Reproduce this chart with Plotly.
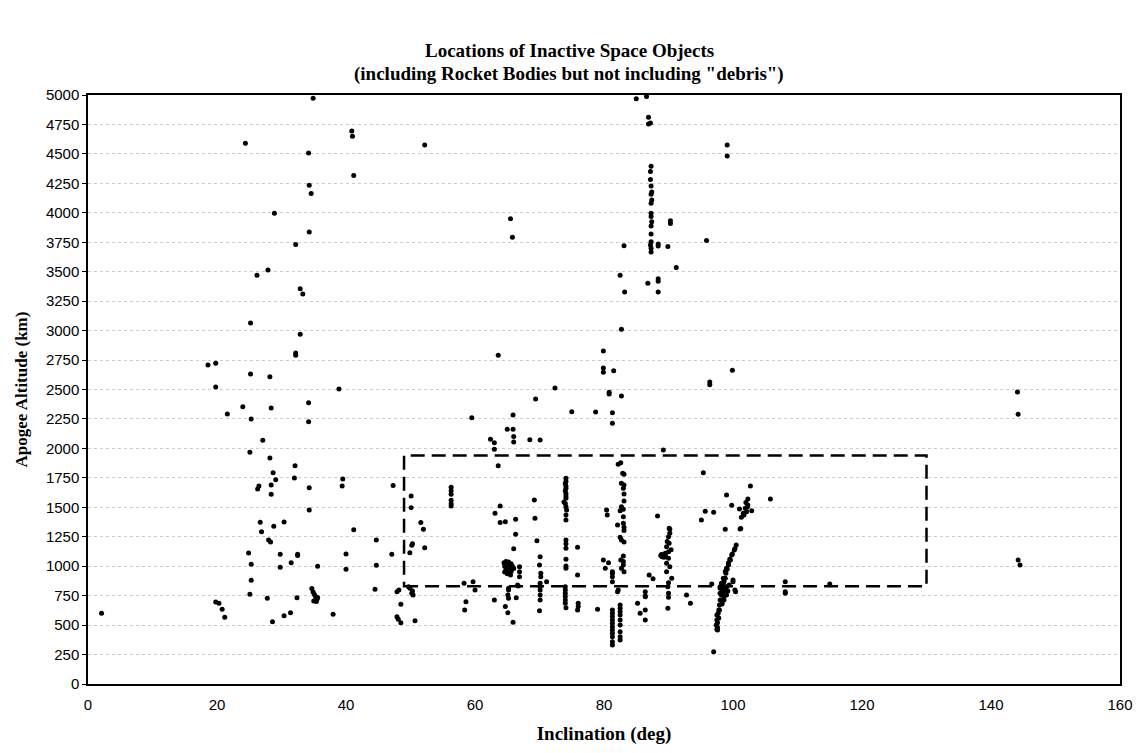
import plotly.graph_objects as go

# Inclination (deg) / apogee altitude (km), grouped by inclination band
low_inc = [2.1, 18.6, 19.8, 19.8, 19.8, 20.3, 20.8, 21.2, 21.6,
           24.0, 24.4, 24.9, 25.1, 25.1, 25.2, 25.2, 25.3, 25.3, 25.3,
           26.2, 26.3, 26.5, 26.7, 26.9, 27.1, 27.8, 27.9, 28.0, 28.2, 28.2, 28.3, 28.4, 28.4, 28.4, 28.6, 28.7, 28.8, 28.9, 29.1, 29.8, 29.8,
           30.4, 30.4, 31.4, 31.5, 32.0, 32.1, 32.2, 32.2, 32.2, 32.4, 32.5, 32.5, 32.9, 32.9, 33.3,
           34.2, 34.2, 34.2, 34.3, 34.3, 34.3, 34.3, 34.6, 34.9, 35.6,
           34.7, 34.9, 35.1, 35.3, 35.5, 35.0, 35.4, 35.6,
           38.0, 38.9, 39.4, 39.5, 40.0, 40.0, 40.9, 41.0, 41.2, 41.2,
           44.5, 44.7, 44.7, 47.1, 47.3, 47.9, 48.2, 47.9, 48.1, 48.5, 48.5]
low_apo = [600, 2708, 2722, 2521, 696, 685, 634, 566, 2292,
           2354, 4590, 1112, 1967, 762, 3065, 2632, 2250, 1016, 880,
           3470, 1655, 1681, 1373, 1293, 2069, 728, 3515, 1223, 2609, 1919, 1206, 2343, 1689, 1610, 529, 1794, 1339, 3996, 1734, 1101, 991,
           1375, 580, 605, 1030, 1749, 1853, 3730, 2810, 2790, 733, 1101, 1090, 3356, 2969, 3311,
           4508, 2388, 2227, 4234, 3837, 1667, 1477, 4163, 4973, 999,
           810, 780, 760, 740, 720, 705, 700, 735,
           592, 2504, 1681, 1740, 1104, 974, 4695, 4650, 4316, 1310,
           804, 1223, 1008, 1101, 1684, 784, 798, 571, 549, 521, 677]

mid_inc = [49.7, 49.9, 50.3, 50.4, 50.2, 50.7, 50.1, 50.1, 51.6, 52.0, 50.2, 50.3, 49.9, 52.2, 52.2,
           56.3, 56.3, 56.3, 56.3, 56.3, 56.3,
           58.3, 58.6, 58.4, 59.5, 59.7, 60.0,
           62.4, 63.0, 63.0, 63.6, 63.6, 63.9, 63.1, 63.9, 64.7, 66.3, 66.3, 66.0, 65.0, 65.9, 66.0, 66.0, 65.5, 65.8, 65.9,
           64.5, 64.8, 65.2, 65.6, 64.6, 65.0, 65.4, 65.8, 64.8, 65.2, 65.6, 65.0, 65.5, 66.0, 64.6,
           66.9, 66.9, 66.9, 66.6, 65.2, 65.2, 65.1, 65.2, 66.4, 64.7, 65.1, 65.9, 63.0, 66.7,
           68.5, 69.4, 70.1, 69.2, 69.3, 69.6,
           70.1, 70.0, 70.2, 70.2, 70.1, 70.1, 70.1, 70.1, 70.1, 70.0,
           71.1, 72.4]
mid_apo = [826, 812, 790, 756, 770, 537, 1596, 1497, 1370, 1313, 1178, 1190, 1115, 1157, 4576,
           1670, 1640, 1610, 1560, 1530, 1510,
           855, 699, 628, 2261, 869, 798,
           2077, 2049, 1992, 1853, 2791, 1511, 1449, 1370, 1378, 1398, 1271, 1149, 2162, 2162, 2100, 2055, 3950, 3792, 2284,
           1030, 1040, 1035, 1020, 1000, 1005, 990, 1000, 970, 960, 955, 935, 925, 980, 950,
           996, 953, 911, 840, 812, 798, 756, 727, 733, 657, 605, 524, 713, 832,
           2074, 2420, 2072, 1562, 1407, 1217,
           1081, 1010, 940, 911, 855, 826, 798, 756, 713, 622,
           869, 2513]

polar_inc = [74.1, 74.1, 74.0, 74.1, 74.1, 74.0, 74.1, 74.1, 74.1, 73.8, 74.0, 74.1, 74.2, 74.1, 74.1, 74.1, 74.1, 74.1, 74.1, 74.1, 74.1,
             74.0, 74.0, 74.0, 74.0, 74.0, 74.0, 74.1,
             75.0, 75.9, 75.9, 76.0, 76.0, 75.9, 78.7, 79.0, 79.9, 79.9, 79.9,
             79.9, 80.7, 80.2, 80.4, 80.5, 80.8, 80.8,
             81.3, 81.3, 81.5, 82.7, 82.7, 82.5, 83.1, 83.2,
             81.3, 81.3, 81.3, 81.3, 82.2, 82.1,
             82.2, 82.6, 82.9, 83.1, 82.7, 83.1, 83.0, 83.1, 83.1, 82.7, 83.0, 82.5, 83.0, 82.1, 83.0, 83.1, 83.1, 82.5, 82.7, 83.1,
             83.0, 83.0, 83.0, 82.7, 83.1, 82.6,
             81.3, 81.3, 81.3, 81.3, 81.3, 81.3, 81.3, 81.3, 81.3, 81.3, 81.3,
             82.5, 82.5, 82.5, 82.5, 82.5, 82.5, 82.5, 82.5, 82.5]
polar_apo = [1746, 1720, 1703, 1680, 1661, 1640, 1618, 1595, 1576, 1545, 1533, 1505, 1477, 1435, 1392, 1222, 1190, 1152, 1058, 1001, 982,
             826, 798, 770, 742, 713, 685, 648,
             2312, 1160, 925, 685, 657, 629, 2309, 634, 2827, 2683, 2647,
             1053, 1030, 982, 1477, 1435, 2476, 2462,
             2303, 2213, 2660, 2445, 3011, 3470, 3721, 3328,
             940, 911, 869, 953, 798, 784,
             1865, 1879, 1789, 1780, 1704, 1690, 1661, 1613, 1554, 1505, 1483, 1471, 1420, 1350, 1364, 1330, 1302, 1245, 1222, 1205,
             1087, 1039, 1010, 982, 953, 1053,
             628, 600, 572, 543, 515, 487, 458, 430, 402, 359, 331,
             671, 642, 614, 586, 543, 501, 444, 402, 374]

high_inc = [85.0, 86.6, 86.9, 86.9, 87.2,
            87.3, 87.2, 87.2, 87.3, 87.4, 87.3, 87.4, 87.3, 87.3, 87.3, 87.4, 87.3, 87.3, 87.3, 87.2, 87.3, 87.3,
            88.4, 88.4, 89.9, 90.3, 90.3, 91.2, 88.4, 88.4, 86.8, 88.4,
            85.2, 85.6, 86.4, 86.4, 86.4, 86.4, 86.4, 87.0, 87.6, 88.3, 89.2,
            90.1, 90.2, 90.0, 90.1, 89.7, 90.0, 89.5, 89.0, 88.8, 89.2, 89.5, 90.0, 89.7, 90.2, 89.7, 90.5, 90.0, 89.9, 90.0, 90.0,
            89.9, 89.3, 88.9, 90.4, 90.2, 89.8,
            92.8, 93.4]
high_apo = [4969, 4987, 4812, 4753, 4763,
            4395, 4350, 4282, 4228, 4177, 4157, 4109, 4081, 3996, 3968, 3925, 3888, 3821, 3755, 3727, 3699, 3668,
            3736, 3719, 3713, 3933, 3910, 3535, 3441, 3418, 3402, 3328,
            685, 600, 628, 543, 784, 747, 741, 925, 894, 1426, 1987,
            1322, 1313, 1251, 1194, 1166, 1123, 1095, 1081, 1090, 1100, 1110, 1067, 1025, 996, 953, 897, 860, 826, 770, 736,
            642, 1075, 1100, 1140, 1280, 1210,
            756, 685]

retro_inc = [95.4, 95.9, 96.4, 96.4, 99.1, 99.1, 99.9,
             95.1, 95.7, 97.0, 98.8, 99.0, 99.8, 101.1, 101.2, 102.7, 105.8,
             101.0, 101.9, 102.1, 102.9, 101.7, 101.3, 102.3, 102.3, 102.0, 101.6, 102.2,
             100.5, 100.3, 100.2, 99.9, 99.8, 99.6, 99.5, 99.3, 99.3, 99.1, 99.0, 98.9, 98.8, 98.8, 98.5, 98.6, 98.5, 98.2,
             98.3, 98.0, 99.0, 98.0, 98.8, 98.4, 98.4, 98.5, 98.0, 99.0, 98.2, 98.6, 98.0, 98.6, 98.3, 98.3, 97.9, 97.9, 97.8,
             97.7, 97.5, 97.8, 97.5, 97.6, 97.4, 97.6, 97.6, 97.5, 97.0, 96.7, 100.0, 100.3, 100.4, 100.0, 99.4, 98.9, 99.2,
             108.1, 108.1, 108.1, 115.0,
             144.1, 144.2, 144.2, 144.5]
retro_apo = [1794, 3764, 2564, 2540, 4576, 4483, 2663,
             1392, 1466, 1458, 1313, 1605, 1517, 1316, 1319, 1681, 1571,
             1486, 1491, 1463, 1471, 1435, 1415, 1571, 1520, 1540, 1450, 1500,
             1180, 1150, 1138, 1104, 1095, 1053, 1060, 1010, 1030, 974, 982, 940, 955, 897, 897, 870, 855, 855,
             826, 826, 826, 812, 812, 800, 784, 784, 770, 756, 756, 740, 713, 713, 690, 679, 671, 628, 628,
             600, 586, 560, 543, 520, 501, 480, 458, 464, 274, 849, 869, 798, 784, 883, 840, 800, 790,
             869, 784, 770, 849,
             2479, 2290, 1053, 1010]

# Highlighted region (dashed box)
box_inc = [49, 130]
box_apo = [830, 1940]

title_lines = ["Locations of Inactive Space Objects",
               "(including Rocket Bodies but not including \"debris\")"]

incl = low_inc + mid_inc + polar_inc + high_inc + retro_inc
apogee = low_apo + mid_apo + polar_apo + high_apo + retro_apo

x_ticks = list(range(0, 161, 20))
y_ticks = list(range(0, 5001, 250))

fig = go.Figure()
fig.add_trace(go.Scatter(
    x=incl, y=apogee, mode="markers",
    marker=dict(color="black", size=5, line=dict(width=0)),
    showlegend=False, hoverinfo="x+y"))

fig.add_shape(type="rect", xref="x", yref="y",
              x0=box_inc[0], x1=box_inc[1], y0=box_apo[0], y1=box_apo[1],
              line=dict(color="black", width=2.5, dash="14px,7px"))

serif = "Liberation Serif, Times New Roman, serif"
sans = "Liberation Sans, Arial, sans-serif"

for i, line in enumerate(title_lines):
    fig.add_annotation(text="<b>" + line + "</b>", xref="paper", yref="paper",
                       x=(569 - 88) / 1032, xanchor="center",
                       y=1 + (95 - (50 + 24 * i)) / 589, yanchor="middle",
                       showarrow=False,
                       font=dict(family=serif, size=19, color="black"))

fig.update_layout(
    width=1138, height=753,
    paper_bgcolor="white", plot_bgcolor="white",
    margin=dict(l=88, r=18, t=95, b=69, autoexpand=False),
    xaxis=dict(range=[0, 160], tickvals=x_ticks, ticktext=[str(v) for v in x_ticks],
               showgrid=False, zeroline=False, automargin=False,
               showline=True, linecolor="black", linewidth=1.5, mirror=True,
               ticks="", ticklabelstandoff=6,
               tickfont=dict(family=sans, size=15, color="black"),
               title=dict(text="<b>Inclination (deg)</b>", standoff=15,
                          font=dict(family=serif, size=19, color="black"))),
    yaxis=dict(range=[0, 5000], tickvals=y_ticks, ticktext=[str(v) for v in y_ticks],
               showgrid=True, gridcolor="#cccccc", gridwidth=1, griddash="dot",
               zeroline=False, automargin=False,
               showline=True, linecolor="black", linewidth=1.5, mirror=True,
               ticks="outside", ticklen=4, tickcolor="black",
               tickfont=dict(family=sans, size=15, color="black"),
               title=dict(text="<b>Apogee Altitude (km)</b>", standoff=14,
                          font=dict(family=serif, size=17, color="black"))),
)

fig.write_html("out.html")
